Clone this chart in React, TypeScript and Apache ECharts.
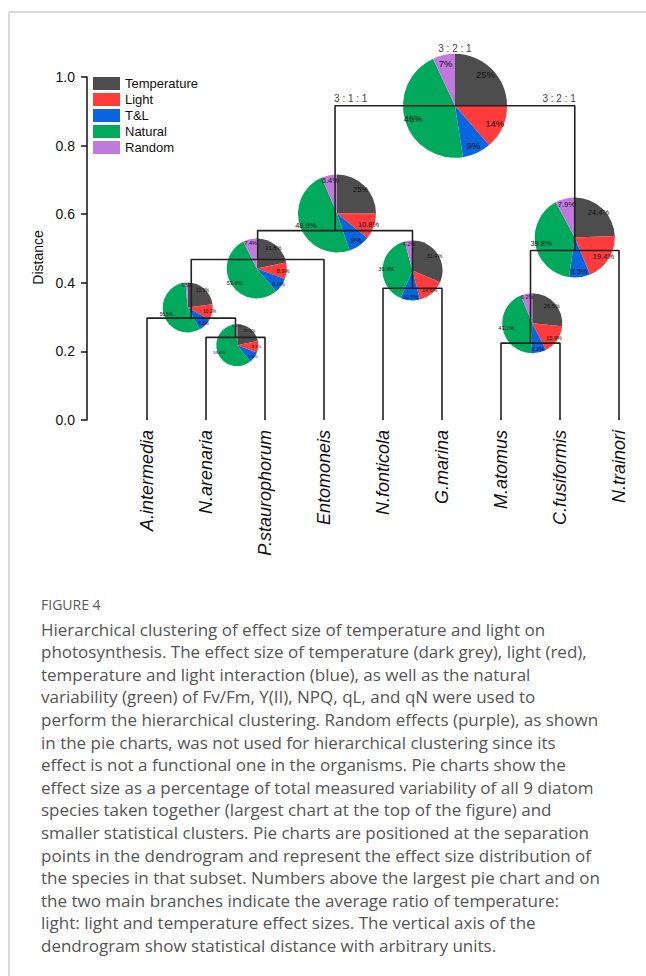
import React, { useEffect, useRef } from "react";
import * as echarts from "echarts";

// ---------- data ----------
const species = [
  "A.intermedia",
  "N.arenaria",
  "P.staurophorum",
  "Entomoneis",
  "N.fonticola",
  "G.marina",
  "M.atomus",
  "C.fusiformis",
  "N.trainori",
];
const components = ["Temperature", "Light", "T&L", "Natural", "Random"];
const yTicks = [0, 0.2, 0.4, 0.6, 0.8, 1.0];

// merges: child ids (0-8 = leaf, 100+k = merge k) and merge height (distance)
const mergeLeft = [1, 0, 101, 4, 102, 6, 105, 104];
const mergeRight = [2, 100, 3, 5, 103, 7, 8, 106];
const mergeHeight = [0.241, 0.297, 0.468, 0.384, 0.552, 0.224, 0.494, 0.916];

// effect size (%) per merge: Temperature, Light, T&L, Natural, Random
const pieA = [21.6, 9.1, 8.6, 59.6, 1.2];
const pieB = [22.9, 10.2, 8.8, 56.5, 1.5];
const pieC = [21.8, 8.9, 8.2, 53.6, 7.4];
const pieD = [31.4, 14.6, 10.5, 39.3, 4.2];
const pieL = [25, 10.8, 9, 48.9, 6.4];
const pieF = [26.5, 15.9, 8.2, 43.1, 6.2];
const pieE = [24.4, 19.4, 8.5, 39.8, 7.9];
const pieRoot = [25, 14, 9, 46, 7];
const pieValues = [pieA, pieB, pieC, pieD, pieL, pieF, pieE, pieRoot];

const ratioRoot = "3 : 2 : 1";
const ratioLeft = "3 : 1 : 1";
const ratioRight = "3 : 2 : 1";

const captionTitle = "FIGURE 4";
const captionLines = [
  "Hierarchical clustering of effect size of temperature and light on",
  "photosynthesis. The effect size of temperature (dark grey), light (red),",
  "temperature and light interaction (blue), as well as the natural",
  "variability (green) of Fv/Fm, Y(II), NPQ, qL, and qN were used to",
  "perform the hierarchical clustering. Random effects (purple), as shown",
  "in the pie charts, was not used for hierarchical clustering since its",
  "effect is not a functional one in the organisms. Pie charts show the",
  "effect size as a percentage of total measured variability of all 9 diatom",
  "species taken together (largest chart at the top of the figure) and",
  "smaller statistical clusters. Pie charts are positioned at the separation",
  "points in the dendrogram and represent the effect size distribution of",
  "the species in that subset. Numbers above the largest pie chart and on",
  "the two main branches indicate the average ratio of temperature:",
  "light: light and temperature effect sizes. The vertical axis of the",
  "dendrogram show statistical distance with arbitrary units.",
];

// ---------- layout / style ----------
const colors = ["#4d4d4d", "#ff3b3b", "#0a66e0", "#00a95c", "#c279de"];
const pieCenterData: [number, number][] = [
  [1.53, 0.218],
  [0.69, 0.328],
  [1.86, 0.442],
  [4.5, 0.436],
  [3.22, 0.602],
  [6.53, 0.282],
  [7.25, 0.532],
  [5.22, 0.916],
];
const pieRadius = [21, 25, 30, 30, 39, 30, 40, 52];
const pieFont = [4.2, 4.6, 5.6, 5.5, 7.5, 5.6, 7.5, 9.5];

const W = 646;
const H = 976;

export default function App() {
  const ref = useRef<HTMLDivElement>(null);
  useEffect(() => {
    if (!ref.current) return;
    const chart = echarts.init(ref.current, null, { renderer: "svg" });

    const mergeX: number[] = [];
    const nx = (c: number) => (c < 100 ? c : mergeX[c - 100]);
    const nh = (c: number) => (c < 100 ? 0 : mergeHeight[c - 100]);
    for (let k = 0; k < mergeHeight.length; k++) {
      mergeX[k] = (nx(mergeLeft[k]) + nx(mergeRight[k])) / 2;
    }
    const lineSeries = mergeHeight.map((h, k) => {
      const a = mergeLeft[k];
      const b = mergeRight[k];
      return {
        type: "line",
        xAxisIndex: 1,
        yAxisIndex: 0,
        showSymbol: false,
        symbol: "none",
        silent: true,
        clip: false,
        lineStyle: { color: "#222", width: 1.6 },
        data: [
          [nx(a), nh(a)],
          [nx(a), h],
          [nx(b), h],
          [nx(b), nh(b)],
        ],
      };
    });

    const baseFont = "'Liberation Sans', Arial, sans-serif";

    const base: any = {
      animation: false,
      backgroundColor: "#fff",
      grid: { left: 147, right: W - 619, top: 77, bottom: H - 420, containLabel: false },
      legend: {
        show: true,
        orient: "vertical",
        left: 88,
        top: 72,
        icon: "rect",
        itemWidth: 27,
        itemHeight: 13,
        itemGap: 3,
        selectedMode: false,
        textStyle: { fontSize: 13, color: "#111", fontFamily: baseFont },
        data: components.map((n, i) => ({ name: n, itemStyle: { color: colors[i] } })),
      },
      xAxis: [
        {
          type: "category",
          data: species,
          boundaryGap: false,
          position: "bottom",
          axisLine: { show: false },
          axisTick: { show: false },
          splitLine: { show: false },
          axisLabel: {
            rotate: 90,
            margin: 10,
            fontSize: 18,
            fontStyle: "italic",
            color: "#111",
            fontFamily: baseFont,
            interval: 0,
          },
        },
        { type: "value", min: 0, max: species.length - 1, show: false },
      ],
      yAxis: [
        {
          type: "value",
          min: yTicks[0],
          max: yTicks[yTicks.length - 1],
          interval: 0.2,
          offset: 60,
          position: "left",
          name: "Distance",
          nameLocation: "middle",
          nameGap: 41,
          nameRotate: 90,
          nameTextStyle: { fontSize: 14, color: "#111", fontFamily: baseFont, padding: [0, 18, 0, 0] },
          axisLine: { show: true, onZero: false, lineStyle: { color: "#111", width: 1.5 } },
          axisTick: { show: true, length: 6, lineStyle: { color: "#111", width: 1.5 } },
          splitLine: { show: false },
          axisLabel: {
            fontSize: 14,
            color: "#111",
            margin: 12,
            fontFamily: baseFont,
            formatter: (v: number) => v.toFixed(1),
          },
        },
      ],
      series: lineSeries,
    };
    chart.setOption(base);

    const pies: any[] = [];
    const labelPies: any[] = [];
    const toPx = (p: number[]) =>
      chart.convertToPixel({ xAxisIndex: 1, yAxisIndex: 0 } as any, p) as number[];
    const centers: number[][] = pieCenterData.map((c) => toPx(c));
    pieValues.forEach((vals, k) => {
      const r = pieRadius[k];
      const center = centers[k];
      const data = components.map((n, i) => ({ name: n, value: vals[i], itemStyle: { color: colors[i] } }));
      pies.push({
        type: "pie",
        center,
        radius: [0, r],
        startAngle: 90,
        clockwise: true,
        silent: true,
        emphasis: { disabled: true },
        itemStyle: { borderWidth: 0 },
        label: { show: false },
        labelLine: { show: false },
        data,
      });
      labelPies.push({
        type: "pie",
        center,
        radius: [r * 0.56, r],
        startAngle: 90,
        clockwise: true,
        silent: true,
        emphasis: { disabled: true },
        itemStyle: { color: "rgba(0,0,0,0)", borderWidth: 0 },
        label: {
          show: true,
          position: "inside",
          formatter: "{c}%",
          fontSize: pieFont[k],
          color: "#111",
          fontFamily: baseFont,
        },
        labelLine: { show: false },
        data: components.map((n, i) => ({
          name: n,
          value: vals[i],
          itemStyle: { color: "rgba(0,0,0,0)" },
        })),
      });
    });

    const rootK = mergeHeight.length - 1;
    const rootPx = toPx([mergeX[rootK], mergeHeight[rootK]]);
    const leftPx = toPx([nx(mergeLeft[rootK]), mergeHeight[rootK]]);
    const rightPx = toPx([nx(mergeRight[rootK]), mergeHeight[rootK]]);
    const rootCenter = centers[rootK];

    const ratioStyle = { fontSize: 10, fill: "#444", fontFamily: baseFont };
    const graphics: any[] = [
      { type: "line", shape: { x1: 9, y1: 12, x2: W, y2: 12 }, style: { stroke: "#cfcfcf", lineWidth: 1.5 } },
      { type: "line", shape: { x1: 9, y1: 12, x2: 9, y2: H }, style: { stroke: "#cfcfcf", lineWidth: 1.5 } },
      {
        type: "text",
        x: rootPx[0],
        y: rootCenter[1] - pieRadius[rootK] - 5,
        style: { ...ratioStyle, text: ratioRoot, align: "center", verticalAlign: "middle" },
      },
      {
        type: "text",
        x: leftPx[0] - 1,
        y: leftPx[1] - 7,
        style: { ...ratioStyle, text: ratioLeft, align: "left", verticalAlign: "middle" },
      },
      {
        type: "text",
        x: rightPx[0] + 1,
        y: rightPx[1] - 7,
        style: { ...ratioStyle, text: ratioRight, align: "right", verticalAlign: "middle" },
      },
      {
        type: "text",
        x: 41,
        y: 604,
        style: {
          text: captionTitle,
          fontSize: 14,
          fill: "#5a5a5a",
          fontFamily: "'Open Sans', sans-serif",
          align: "left",
          verticalAlign: "middle",
        },
      },
      ...captionLines.map((t, i) => ({
        type: "text",
        x: 41,
        y: 629 + i * 22.6,
        style: {
          text: t,
          fontSize: 17,
          fill: "#555",
          fontFamily: "'Open Sans', sans-serif",
          align: "left",
          verticalAlign: "middle",
        },
      })),
    ];

    chart.setOption({
      series: [...lineSeries, ...pies, ...labelPies],
      graphic: graphics,
    });

    return () => chart.dispose();
  }, []);

  return (
    <div
      ref={ref}
      style={{ position: "absolute", left: 0, top: 0, width: W, height: H, background: "#fff" }}
    />
  );
}
